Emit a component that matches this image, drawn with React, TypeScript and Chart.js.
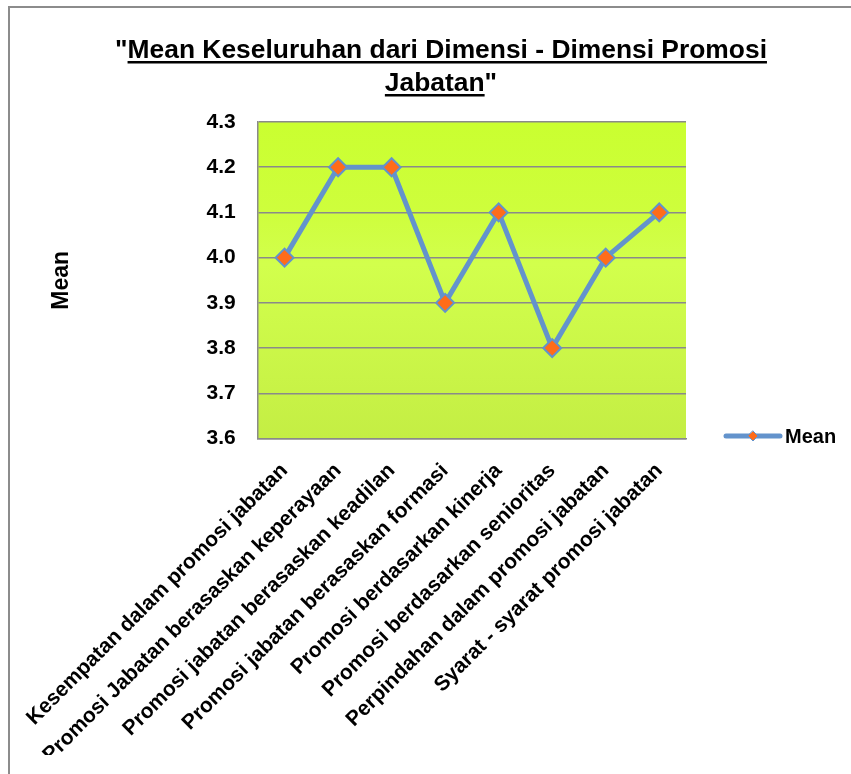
import { useEffect, useRef } from 'react';
import { Chart, registerables } from 'chart.js';

Chart.register(...registerables);

const categories = [
  'Kesempatan dalam promosi jabatan',
  'Promosi Jabatan berasaskan keperayaan',
  'Promosi jabatan berasaskan keadilan',
  'Promosi jabatan berasaskan formasi',
  'Promosi berdasarkan kinerja',
  'Promosi berdasarkan senioritas',
  'Perpindahan dalam promosi jabatan',
  'Syarat - syarat promosi jabatan',
];
const meanValues = [4.0, 4.2, 4.2, 3.9, 4.1, 3.8, 4.0, 4.1];
const seriesName = 'Mean';
const titleLines = ['Mean Keseluruhan dari Dimensi - Dimensi Promosi', 'Jabatan'];
const yAxisTitle = 'Mean';
const yMin = 3.6;
const yMax = 4.3;
const yStep = 0.1;

const FONT = '"Liberation Sans", Arial, sans-serif';
const LINE_COLOR = '#6393cc';
const POINT_COLOR = '#ff6c1a';

const framePlugin = {
  id: 'frame',
  beforeDraw(chart: any) {
    const { ctx, width, height, chartArea } = chart;
    ctx.save();
    ctx.fillStyle = '#ffffff';
    ctx.fillRect(0, 0, width, height);
    ctx.strokeStyle = '#8c8c8c';
    ctx.lineWidth = 2;
    ctx.beginPath();
    ctx.moveTo(9, height);
    ctx.lineTo(9, 7);
    ctx.lineTo(width, 7);
    ctx.stroke();
    const g = ctx.createLinearGradient(0, chartArea.top, 0, chartArea.bottom);
    g.addColorStop(0, '#caff30');
    g.addColorStop(0.28, '#cefe3c');
    g.addColorStop(0.45, '#d2ff4c');
    g.addColorStop(1, '#c4ee44');
    ctx.fillStyle = g;
    ctx.fillRect(chartArea.left, chartArea.top, chartArea.right - chartArea.left, chartArea.bottom - chartArea.top);
    ctx.restore();
  },
};

const titlePlugin = {
  id: 'ulTitle',
  afterDraw(chart: any) {
    const { ctx } = chart;
    ctx.save();
    ctx.font = `bold 26.4px ${FONT}`;
    ctx.fillStyle = '#000';
    ctx.textBaseline = 'alphabetic';
    ctx.textAlign = 'left';
    const cx = 441;
    const baselines = [58, 91];
    titleLines.forEach((line, i) => {
      const pre = i === 0 ? '"' : '';
      const post = i === titleLines.length - 1 ? '"' : '';
      const wPre = ctx.measureText(pre).width;
      const wMain = ctx.measureText(line).width;
      const wPost = ctx.measureText(post).width;
      const total = wPre + wMain + wPost;
      let x = cx - total / 2;
      const y = baselines[i];
      if (pre) ctx.fillText(pre, x, y);
      x += wPre;
      ctx.fillText(line, x, y);
      ctx.fillRect(x, y + 3, wMain, 2.5);
      x += wMain;
      if (post) ctx.fillText(post, x, y);
    });
    ctx.restore();
  },
};

const legendPlugin = {
  id: 'customLegend',
  afterDraw(chart: any) {
    const { ctx } = chart;
    const y = 436;
    ctx.save();
    ctx.strokeStyle = LINE_COLOR;
    ctx.lineWidth = 5;
    ctx.lineCap = 'round';
    ctx.beginPath();
    ctx.moveTo(726, y);
    ctx.lineTo(780, y);
    ctx.stroke();
    const px = 753;
    const r = 5;
    ctx.fillStyle = POINT_COLOR;
    ctx.strokeStyle = LINE_COLOR;
    ctx.lineWidth = 1;
    ctx.beginPath();
    ctx.moveTo(px, y - r);
    ctx.lineTo(px + r, y);
    ctx.lineTo(px, y + r);
    ctx.lineTo(px - r, y);
    ctx.closePath();
    ctx.fill();
    ctx.stroke();
    ctx.fillStyle = '#000';
    ctx.font = `bold 20px ${FONT}`;
    ctx.textBaseline = 'middle';
    ctx.textAlign = 'left';
    ctx.fillText(seriesName, 785, y + 1);
    ctx.restore();
  },
};

export default function App() {
  const canvasRef = useRef<HTMLCanvasElement | null>(null);

  useEffect(() => {
    const canvas = canvasRef.current;
    if (!canvas) return;
    Chart.defaults.font.family = FONT;
    const chart = new Chart(canvas, {
      type: 'line',
      data: {
        labels: categories,
        datasets: [
          {
            label: seriesName,
            data: meanValues,
            borderColor: LINE_COLOR,
            borderWidth: 5,
            backgroundColor: POINT_COLOR,
            pointStyle: 'rectRot',
            pointRadius: 9,
            pointHoverRadius: 9,
            pointBackgroundColor: POINT_COLOR,
            pointBorderColor: LINE_COLOR,
            pointBorderWidth: 2,
            tension: 0,
            fill: false,
          },
        ],
      },
      options: {
        responsive: false,
        animation: false,
        layout: { padding: { left: 40, top: 122, right: 165, bottom: 19 } },
        plugins: {
          legend: { display: false },
          title: { display: false },
          tooltip: { enabled: false },
        },
        scales: {
          x: {
            type: 'category',
            offset: true,
            grid: {
              display: true,
              drawOnChartArea: false,
              drawTicks: true,
              tickLength: 16,
              color: 'rgba(0,0,0,0)',
            },
            border: { display: true, color: '#8a8a8a', width: 1.5 },
            ticks: {
              autoSkip: false,
              minRotation: 45,
              maxRotation: 45,
              padding: 4,
              color: '#000',
              font: { size: 21, weight: 'bold' },
            },
          },
          y: {
            min: yMin,
            max: yMax,
            grid: { color: '#8a8a8a', lineWidth: 1.5, drawTicks: false },
            border: { display: true, color: '#8a8a8a', width: 1.5 },
            ticks: {
              stepSize: yStep,
              padding: 22,
              color: '#000',
              font: { size: 21, weight: 'bold' },
              callback: (v: any) => Number(v).toFixed(1),
            },
            title: {
              display: true,
              text: yAxisTitle,
              color: '#000',
              font: { size: 23, weight: 'bold' },
              padding: { top: 8, bottom: 109 },
            },
          },
        },
      },
      plugins: [framePlugin, titlePlugin, legendPlugin],
    });
    return () => chart.destroy();
  }, []);

  return (
    <div style={{ position: 'fixed', left: 0, top: 0, width: 851, height: 774, background: '#fff' }}>
      <canvas ref={canvasRef} width={851} height={774} style={{ display: 'block' }} />
    </div>
  );
}
